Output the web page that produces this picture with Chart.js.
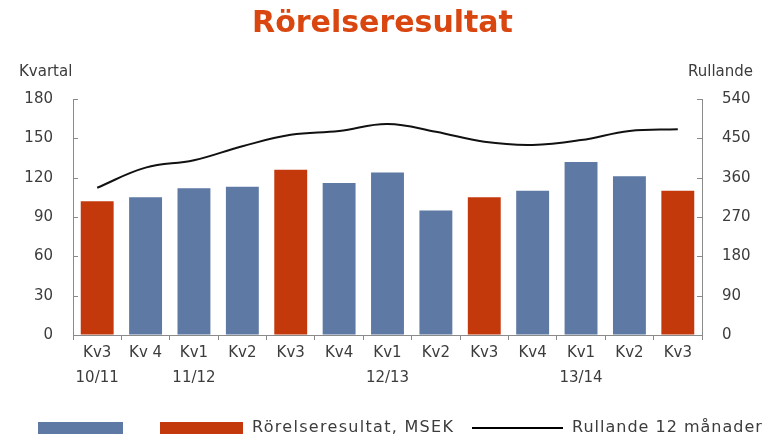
<!DOCTYPE html>
<html>
<head>
<meta charset="utf-8">
<script src="https://cdn.jsdelivr.net/npm/chart.js@4/dist/chart.umd.min.js"></script>
<style>
  html, body { margin: 0; padding: 0; background: #fff; }
  #wrap { width: 765px; height: 438px; }
</style>
</head>
<body>
<div id="wrap"><canvas id="resultChart"></canvas></div>
<script>
// ---- data ----
const quarters = ['Kv3', 'Kv 4', 'Kv1', 'Kv2', 'Kv3', 'Kv4', 'Kv1', 'Kv2', 'Kv3', 'Kv4', 'Kv1', 'Kv2', 'Kv3'];
const years = ['10/11', '', '11/12', '', '', '', '12/13', '', '', '', '13/14', '', ''];
const quarterResult = [102, 105, 112, 113, 126, 116, 124, 95, 105, 110, 132, 121, 110];
const rolling12 = [337, 383, 400, 432, 458, 467, 483, 465, 442, 435, 446, 467, 471];
const highlighted = [true, false, false, false, true, false, false, false, true, false, false, false, true];
const leftTicks = [0, 180, 30];   // min, max, step
const rightTicks = [0, 540, 90];

const BLUE = '#5d79a4';
const RED = '#c4390c';
const AXIS = '#8a8a8a';
const TEXT = '#3c3c3c';
const FONT = 'DejaVu Sans';

const labels = quarters.map((q, i) => [q, years[i]]);

// small texts, inward y ticks and the legend
const extras = {
    id: 'extras',
    afterDraw(chart) {
        const ctx = chart.ctx;
        ctx.save();
        ctx.fillStyle = TEXT;
        ctx.font = '15px ' + FONT;
        ctx.textBaseline = 'middle';
        ctx.textAlign = 'left';
        ctx.fillText('Kvartal', 19, 72);
        ctx.textAlign = 'right';
        ctx.fillText('Rullande', 753, 72);

        // inward ticks on both y axes
        ctx.strokeStyle = AXIS;
        ctx.lineWidth = 1;
        const yl = chart.scales.y, yr = chart.scales.y2;
        yl.ticks.forEach((t, i) => {
            const py = Math.round(yl.getPixelForTick(i)) + 0.5;
            ctx.beginPath(); ctx.moveTo(yl.right, py); ctx.lineTo(yl.right + 5, py); ctx.stroke();
        });
        yr.ticks.forEach((t, i) => {
            const py = Math.round(yr.getPixelForTick(i)) + 0.5;
            ctx.beginPath(); ctx.moveTo(yr.left, py); ctx.lineTo(yr.left - 5, py); ctx.stroke();
        });

        // legend
        const ly = 428;
        ctx.fillStyle = BLUE;
        ctx.fillRect(38, ly - 6, 85, 12);
        ctx.fillStyle = RED;
        ctx.fillRect(160, ly - 6, 83, 12);
        ctx.strokeStyle = '#000';
        ctx.lineWidth = 2;
        ctx.beginPath(); ctx.moveTo(472, ly); ctx.lineTo(563, ly); ctx.stroke();
        ctx.fillStyle = TEXT;
        ctx.textAlign = 'left';
        ctx.font = '16px ' + FONT;
        ctx.letterSpacing = '1.3px';
        ctx.fillText('Rörelseresultat, MSEK', 252, ly);
        ctx.letterSpacing = '1px';
        ctx.fillText('Rullande 12 månader', 572, ly);
        ctx.restore();
    }
};

new Chart(document.getElementById('resultChart'), {
    type: 'bar',
    data: {
        labels: labels,
        datasets: [{
            type: 'line',
            label: 'Rullande 12 månader',
            data: rolling12,
            yAxisID: 'y2',
            borderColor: '#111',
            borderWidth: 2,
            tension: 0.4,
            pointRadius: 0,
            fill: false,
            order: 0
        }, {
            label: 'Rörelseresultat, MSEK',
            data: quarterResult,
            yAxisID: 'y',
            backgroundColor: highlighted.map(h => h ? RED : BLUE),
            borderWidth: 0,
            categoryPercentage: 1,
            barPercentage: 0.68,
            order: 1
        }]
    },
    options: {
        responsive: true,
        maintainAspectRatio: false,
        animation: false,
        layout: { padding: 0 },
        plugins: {
            legend: { display: false },
            tooltip: { enabled: false },
            title: {
                display: true,
                text: 'Rörelseresultat',
                color: '#d9460f',
                font: { family: FONT, size: 30, weight: 'bold', lineHeight: 1.2 },
                padding: { top: 6, bottom: 57 }
            }
        },
        scales: {
            x: {
                offset: true,
                afterFit: s => { s.height = 103; },
                border: { display: true, color: AXIS },
                grid: { display: true, offset: true, drawOnChartArea: false, drawTicks: true, tickLength: 5, color: AXIS },
                ticks: { color: TEXT, font: { family: FONT, size: 15, lineHeight: 1.7 }, padding: 0, maxRotation: 0, autoSkip: false }
            },
            y: {
                position: 'left',
                min: leftTicks[0], max: leftTicks[1],
                afterFit: s => { s.width = 73; },
                border: { display: true, color: AXIS },
                grid: { display: true, drawOnChartArea: false, drawTicks: false },
                ticks: { stepSize: leftTicks[2], color: TEXT, font: { family: FONT, size: 15 }, padding: 20 }
            },
            y2: {
                position: 'right',
                min: rightTicks[0], max: rightTicks[1],
                afterFit: s => { s.width = 63; },
                border: { display: true, color: AXIS },
                grid: { display: true, drawOnChartArea: false, drawTicks: false },
                ticks: { stepSize: rightTicks[2], color: TEXT, font: { family: FONT, size: 15 }, padding: 20 }
            }
        }
    },
    plugins: [extras]
});
</script>
</body>
</html>
